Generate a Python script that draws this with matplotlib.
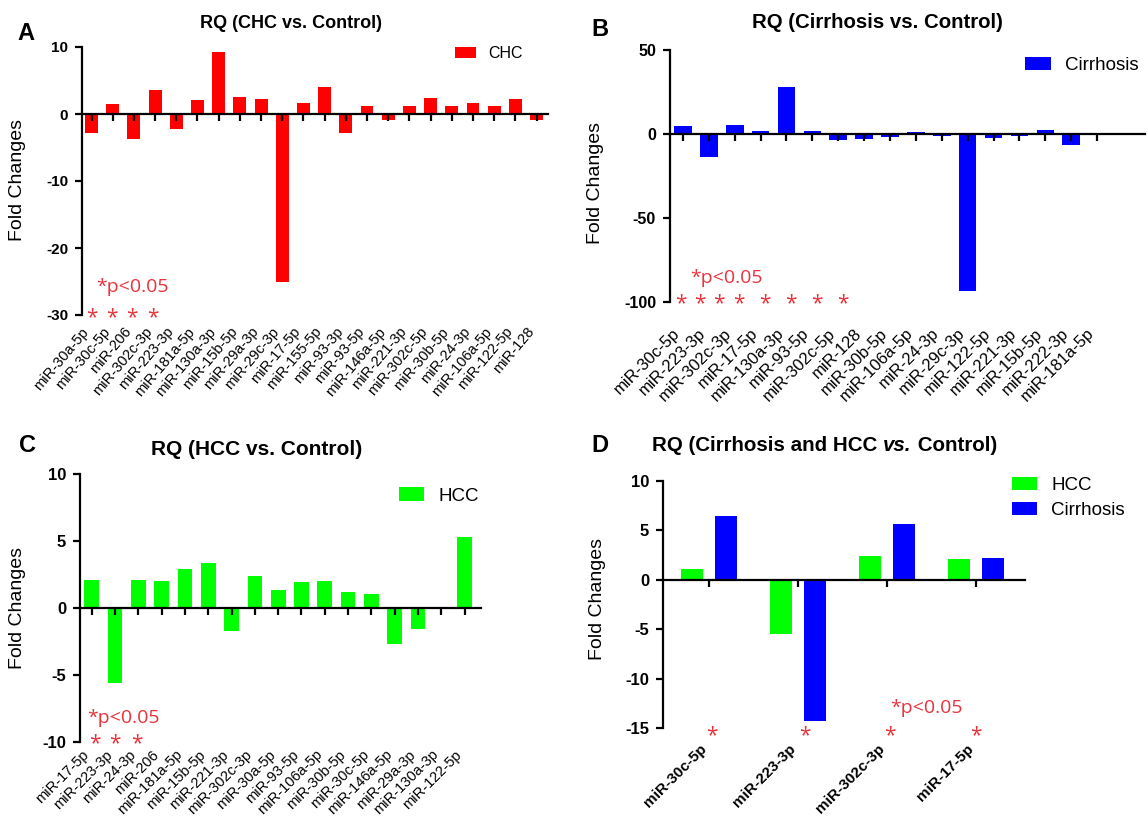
import numpy as np
import matplotlib.pyplot as plt

plt.rcParams['font.family'] = ['Liberation Sans', 'DejaVu Sans']
plt.rcParams['axes.unicode_minus'] = False

# --- Panel A: CHC vs. Control ---
chc_mirs = ['miR-30a-5p', 'miR-30c-5p', 'miR-206', 'miR-302c-3p', 'miR-223-3p',
            'miR-181a-5p', 'miR-130a-3p', 'miR-15b-5p', 'miR-29a-3p', 'miR-29c-3p',
            'miR-17-5p', 'miR-155-5p', 'miR-93-3p', 'miR-93-5p', 'miR-146a-5p',
            'miR-221-3p', 'miR-302c-5p', 'miR-30b-5p', 'miR-24-3p', 'miR-106a-5p',
            'miR-122-5p', 'miR-128']
chc_fc = [-2.85, 1.5, -3.7, 3.65, -2.2, 2.15, 9.25, 2.5, 2.3, -25.1, 1.65, 4.05,
          -2.85, 1.25, -0.85, 1.25, 2.45, 1.15, 1.6, 1.15, 2.25, -0.85]
chc_stars = [0.0, 0.95, 1.92, 2.88]

# --- Panel B: Cirrhosis vs. Control ---
cir_mirs = ['miR-30c-5p', 'miR-223-3p', 'miR-302c-3p', 'miR-17-5p', 'miR-130a-3p',
            'miR-93-5p', 'miR-302c-5p', 'miR-128', 'miR-30b-5p', 'miR-106a-5p',
            'miR-24-3p', 'miR-29c-3p', 'miR-122-5p', 'miR-221-3p', 'miR-15b-5p',
            'miR-222-3p', 'miR-181a-5p']
cir_fc = [4.9, -13.8, 5.3, 2.0, 28.1, 2.0, -3.5, -3.1, -1.6, 1.4, -1.2, -93.7,
          -2.2, -1.0, 2.6, -6.5, -0.6]
cir_stars = [-0.07, 0.64, 1.4, 2.15, 3.16, 4.16, 5.16, 6.16]

# --- Panel C: HCC vs. Control ---
hcc_mirs = ['miR-17-5p', 'miR-223-3p', 'miR-24-3p', 'miR-206', 'miR-181a-5p',
            'miR-15b-5p', 'miR-221-3p', 'miR-302c-3p', 'miR-30a-5p', 'miR-93-5p',
            'miR-106a-5p', 'miR-30b-5p', 'miR-30c-5p', 'miR-146a-5p', 'miR-29a-3p',
            'miR-130a-3p', 'miR-122-5p']
hcc_fc = [2.1, -5.6, 2.1, 2.05, 2.9, 3.35, -1.75, 2.4, 1.33, 1.93, 2.05, 1.2,
          1.03, -2.68, -1.58, 0.03, 5.28]
hcc_stars = [0.15, 1.0, 1.95]

# --- Panel D: Cirrhosis and HCC vs. Control ---
common_mirs = ['miR-30c-5p', 'miR-223-3p', 'miR-302c-3p', 'miR-17-5p']
common_hcc = [1.05, -5.5, 2.4, 2.1]
common_cir = [6.45, -14.3, 5.6, 2.2]
common_stars = [0.03, 1.07, 2.03, 3.0]

RED = '#ff0000'
BLUE = '#0000ff'
GREEN = '#00ff00'
SIG = '#e8333c'

W, H = 1148, 819


def fx(x):
    return x / W


def fy(y):
    return 1 - y / H


def add_axes(fig, left, top, right, bottom):
    return fig.add_axes([fx(left), fy(bottom), (right - left) / W, (bottom - top) / H])


def style_axes(ax, ticks, labels, ylim, yticks, xlim, bold=False, pad=3,
               rot=45, lsize=11, ysize=11):
    ax.set_xlim(xlim)
    ax.set_ylim(ylim)
    ax.set_yticks(yticks)
    for s in ['top', 'right']:
        ax.spines[s].set_visible(False)
    ax.spines['bottom'].set_position(('data', 0))
    ax.spines['left'].set_linewidth(1.6)
    ax.spines['bottom'].set_linewidth(1.6)
    ax.set_xticks(ticks)
    ax.tick_params(axis='x', direction='out', length=5, width=1.6, labelbottom=False)
    ax.tick_params(axis='y', direction='out', length=5, width=1.6, labelsize=ysize, pad=5)
    for t in ax.get_yticklabels():
        t.set_fontweight('bold')

    # tick labels sit at the bottom of the axes, not at y=0
    sec = ax.secondary_xaxis('bottom')
    sec.set_xticks(ticks, labels, rotation=rot, ha='right', fontsize=lsize,
                   fontweight='bold' if bold else 'normal')
    sec.tick_params(length=0, pad=pad)
    sec.spines['bottom'].set_visible(False)


def add_stars(ax, xs, y):
    for x in xs:
        ax.text(x, y, '*', color=SIG, fontsize=15, ha='center', va='center',
                family=['Open Sans', 'DejaVu Sans'], transform=ax.get_xaxis_transform())


def bar_panel(ax, labels, values, color, name, ylim, yticks, xlim, width, **kw):
    x = np.arange(len(labels))
    ax.bar(x, values, width=width, color=color, label=name, zorder=1)
    style_axes(ax, x, labels, ylim, yticks, xlim, **kw)


fig = plt.figure(figsize=(W / 100, H / 100), dpi=100)
fig.patch.set_facecolor('white')

leg_kw = dict(frameon=False, handlelength=1.35, handleheight=0.7,
              handletextpad=0.75, borderpad=0, borderaxespad=0, labelspacing=0.45)
sig_kw = dict(color=SIG, fontsize=14, ha='left', va='center',
              family=['Open Sans', 'DejaVu Sans'])

# A
axA = add_axes(fig, 82, 47, 548, 315)
bar_panel(axA, chc_mirs, chc_fc, RED, 'CHC', (-30, 10), [-30, -20, -10, 0, 10],
          (-0.45, 21.54), 0.61, pad=7, rot=50, lsize=10.5, ysize=11)
axA.legend(loc='center left', bbox_to_anchor=(0.80, 0.974), fontsize=11.5, **leg_kw)
add_stars(axA, chc_stars, -0.01)
fig.text(fx(96), fy(287), '*p<0.05', **sig_kw)

# B
axB = add_axes(fig, 670, 50, 1145, 302)
bar_panel(axB, cir_mirs, cir_fc, BLUE, 'Cirrhosis', (-100, 50), [-100, -50, 0, 50],
          (-0.5, 17.85), 0.68, pad=17, rot=45, lsize=12, ysize=11.5)
axB.legend(loc='center left', bbox_to_anchor=(0.748, 0.937), fontsize=13.5, **leg_kw)
add_stars(axB, cir_stars, -0.005)
fig.text(fx(690), fy(278), '*p<0.05', **sig_kw)

# C
axC = add_axes(fig, 80, 474, 481, 742)
bar_panel(axC, hcc_mirs, hcc_fc, GREEN, 'HCC', (-10, 10), [-10, -5, 0, 5, 10],
          (-0.5, 16.7), 0.63, pad=4, rot=45, lsize=10.5, ysize=12)
axC.legend(loc='center left', bbox_to_anchor=(0.795, 0.918), fontsize=13.5, **leg_kw)
add_stars(axC, hcc_stars, -0.005)
fig.text(fx(87), fy(718), '*p<0.05', **sig_kw)

# D
axD = add_axes(fig, 663, 481, 1025, 728)
xd = np.arange(len(common_mirs))
axD.bar(xd - 0.19, common_hcc, width=0.25, color=GREEN, label='HCC', zorder=1)
axD.bar(xd + 0.19, common_cir, width=0.25, color=BLUE, label='Cirrhosis', zorder=1)
style_axes(axD, xd, common_mirs, (-15, 10), [-15, -10, -5, 0, 5, 10], (-0.52, 3.55),
           bold=True, pad=10, rot=45, lsize=11, ysize=12)
axD.legend(loc='center left', bbox_to_anchor=(0.964, 0.931), fontsize=13.5, **leg_kw)
add_stars(axD, common_stars, -0.03)
fig.text(fx(890), fy(708), '*p<0.05', **sig_kw)

# titles
title_kw = dict(fontweight='bold', ha='center', va='center')
fig.text(fx(291), fy(24), 'RQ (CHC vs. Control)', fontsize=13, **title_kw)
fig.text(fx(877), fy(22), 'RQ (Cirrhosis vs. Control)', fontsize=14.7, **title_kw)
fig.text(fx(257), fy(449), 'RQ (HCC vs. Control)', fontsize=15, **title_kw)
t1 = fig.text(fx(652), fy(446), 'RQ (Cirrhosis and HCC ', fontsize=14.8,
              fontweight='bold', ha='left', va='center')
t2 = axD.annotate('vs.', xy=(1, 0), xycoords=t1, ha='left', va='bottom',
                  fontsize=14.8, fontweight='bold', style='italic')
axD.annotate(' Control)', xy=(1, 0), xycoords=t2, ha='left', va='bottom',
             fontsize=14.8, fontweight='bold')

# panel letters
for letter, (lx, ly) in zip('ABCD', [(26, 33), (600, 29), (27, 446), (600, 446)]):
    fig.text(fx(lx), fy(ly), letter, fontsize=17, fontweight='bold',
             ha='center', va='center')

# y labels
for lx, ly in [(18, 180), (595, 183), (18, 608), (597, 599)]:
    fig.text(fx(lx), fy(ly), 'Fold Changes', rotation=90, fontsize=14,
             ha='center', va='center')

fig.savefig('out.png', dpi=100)
